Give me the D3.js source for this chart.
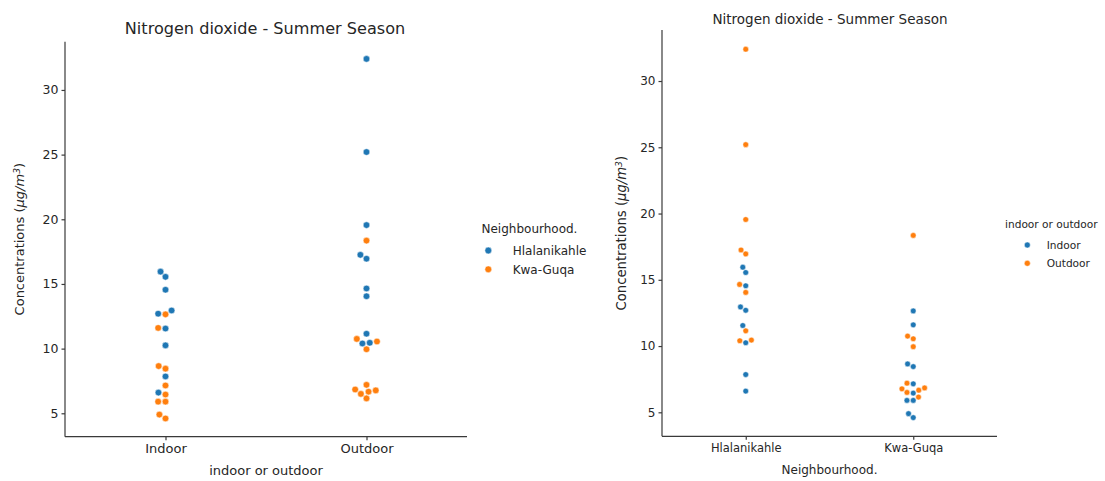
<!DOCTYPE html>
<html><head><meta charset="utf-8">
<script src="https://cdn.jsdelivr.net/npm/d3@7"></script>
<style>
body{margin:0;background:#fff}
text{font-family:"DejaVu Sans",sans-serif;fill:#262626}
</style>
</head><body>
<svg id="c" width="1105" height="481"></svg>
<script>
// ---------------- data ----------------
const locations = ["Indoor", "Outdoor"];
const neighbourhoods = ["Hlalanikahle", "Kwa-Guqa"];
const hlalIndoor  = [15.95, 15.55, 14.55, 12.95, 12.7, 11.55, 10.25, 7.85, 6.6];
const kwaIndoor   = [12.65, 11.6, 8.65, 8.45, 7.15, 6.45, 5.9, 5.9, 4.9, 4.6];
const hlalOutdoor = [32.4, 25.2, 19.55, 17.25, 16.95, 14.65, 14.05, 11.15, 10.4, 10.45];
const kwaOutdoor  = [18.35, 10.75, 10.55, 9.95, 7.2, 6.84, 6.77, 6.67, 6.5, 6.15];
const yTicks = [5, 10, 15, 20, 25, 30];
const chartTitle = "Nitrogen dioxide - Summer Season";
const colors = ["#1f77b4", "#ff7f0e"];

const records = [];
[[hlalIndoor,0,0],[kwaIndoor,1,0],[hlalOutdoor,0,1],[kwaOutdoor,1,1]].forEach(([arr,n,l]) => {
  arr.forEach(v => records.push({n: neighbourhoods[n], loc: locations[l], v}));
});

const svg = d3.select("#c");

function beeswarm(pts, cx, r) {
  const sorted = pts.slice().sort((a, b) => a.v - b.v);
  const placed = [];
  const d2 = (2 * r) * (2 * r);
  sorted.forEach(p => {
    const nb = [];
    for (let i = placed.length - 1; i >= 0; i--) {
      const q = placed[i];
      if (q.py - p.py < 2 * r) nb.push(q); else break;
    }
    let cands = [cx];
    let leftFirst = true;
    nb.forEach(q => {
      const dy = q.py - p.py;
      const dx = Math.sqrt(Math.max(d2 - dy * dy, 0)) * 1.05;
      const cl = q.px - dx, cr = q.px + dx;
      if (leftFirst) cands.push(cl, cr); else cands.push(cr, cl);
      leftFirst = !leftFirst;
    });
    cands = cands.map((x, i) => ({x, i})).sort((a, b) => (Math.abs(a.x - cx) - Math.abs(b.x - cx)) || (a.i - b.i));
    for (const c of cands) {
      const ok = nb.every(q => (c.x - q.px) ** 2 + (q.py - p.py) ** 2 >= d2 - 1e-9);
      if (ok) { p.px = c.x; break; }
    }
    placed.push(p);
  });
  return placed;
}

function panel(cfg) {
  const g = svg.append("g");
  const x = d3.scalePoint().domain(cfg.cats).range([cfg.x0, cfg.x1]).padding(0.5);
  const y = d3.scaleLinear().domain(cfg.ydom).range([cfg.yb, cfg.yt]);

  // axes
  const ya = g.append("g").attr("transform", `translate(${cfg.x0},0)`)
    .call(d3.axisLeft(y).tickValues(yTicks).tickSize(3.5).tickPadding(3).tickFormat(d3.format("d")));
  ya.select(".domain").attr("d", `M0,${cfg.yb}V${cfg.yt}`);
  const xa = g.append("g").attr("transform", `translate(0,${cfg.yb})`)
    .call(d3.axisBottom(x).tickSize(3.5).tickPadding(4));
  xa.select(".domain").attr("d", `M${cfg.x0},0H${cfg.x1}`);
  [ya, xa].forEach(a => {
    a.selectAll(".domain,.tick line").attr("stroke", "#3a3a3a").attr("stroke-width", 1.2);
    a.selectAll("text").style("font-family", '"DejaVu Sans",sans-serif').attr("fill", "#262626");
  });
  ya.selectAll("text").style("font-size", cfg.ytickFs + "px");
  xa.selectAll("text").style("font-size", cfg.xtickFs + "px");

  // title
  g.append("text").attr("x", cfg.titleX).attr("y", cfg.titleY)
    .attr("text-anchor", "middle").style("font-size", cfg.titleFs + "px").text(chartTitle);
  // x label
  g.append("text").attr("x", (cfg.x0 + cfg.x1) / 2).attr("y", cfg.xlabY)
    .attr("text-anchor", "middle").style("font-size", cfg.xlabFs + "px").text(cfg.xlab);
  // y label
  const yl = g.append("text").attr("transform", `translate(${cfg.ylabX},${(cfg.yb + cfg.yt) / 2}) rotate(-90)`)
    .attr("text-anchor", "middle").style("font-size", cfg.labFs + "px");
  yl.append("tspan").text("Concentrations (");
  yl.append("tspan").style("font-style", "italic").text("μg/m");
  yl.append("tspan").attr("dy", "-0.45em").style("font-size", "0.7em").style("font-style", "italic").text("3");
  yl.append("tspan").attr("dy", "0.315em").text(")");

  // points
  cfg.cats.forEach(cat => {
    const pts = records.filter(d => d[cfg.catKey] === cat).map(d => ({...d, py: y(d.v)}));
    const placed = beeswarm(pts, x(cat), cfg.r);
    g.append("g").selectAll("circle").data(placed).join("circle")
      .attr("cx", d => d.px).attr("cy", d => d.py).attr("r", cfg.dotR)
      .attr("fill", d => colors[cfg.hues.indexOf(d[cfg.hueKey])])
      .attr("stroke", "#fff").attr("stroke-width", 0.5);
  });

  // legend
  const L = cfg.leg;
  g.append("text").attr("x", L.tx).attr("y", L.ty).style("font-size", L.tfs + "px").text(cfg.hueTitle);
  cfg.hues.forEach((h, i) => {
    g.append("circle").attr("cx", L.mx).attr("cy", L.my + i * L.step).attr("r", L.r)
      .attr("fill", colors[i]).attr("stroke", "#fff").attr("stroke-width", 0.5);
    g.append("text").attr("x", L.lx).attr("y", L.my + i * L.step).attr("dy", "0.35em")
      .style("font-size", L.fs + "px").text(h);
  });
}

panel({
  cats: locations, catKey: "loc", hues: neighbourhoods, hueKey: "n", hueTitle: "Neighbourhood.",
  x0: 65, x1: 467, yb: 436.7, yt: 41.7, ydom: [3.19, 33.73], r: 3.5, dotR: 3.3,
  ytickFs: 12.5, xtickFs: 13, titleFs: 16.1, labFs: 13, xlabFs: 13, titleX: 265, titleY: 34, xlabY: 475, ylabX: 24,
  xlab: "indoor or outdoor",
  leg: {tx: 481.5, ty: 233, tfs: 12, mx: 488.3, my: 250.5, step: 18.8, lx: 512.7, fs: 12, r: 3.4}
});
panel({
  cats: neighbourhoods, catKey: "n", hues: locations, hueKey: "loc", hueTitle: "indoor or outdoor",
  x0: 662, x1: 997, yb: 436.3, yt: 30, ydom: [3.19, 33.85], r: 3.0, dotR: 2.85,
  ytickFs: 12, xtickFs: 11.5, titleFs: 13.5, labFs: 13.2, xlabFs: 12, titleX: 830, titleY: 24, xlabY: 474, ylabX: 626,
  xlab: "Neighbourhood.",
  leg: {tx: 1005, ty: 228, tfs: 10.6, mx: 1027.3, my: 245, step: 18.3, lx: 1046.7, fs: 10.6, r: 3.0}
});
</script>
</body></html>
